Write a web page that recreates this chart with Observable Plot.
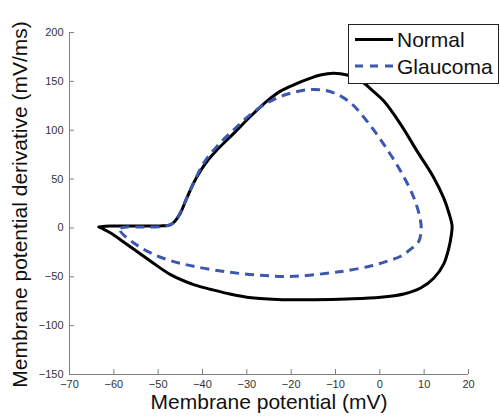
<!DOCTYPE html>
<html>
<head>
<meta charset="utf-8">
<script src="https://cdn.jsdelivr.net/npm/d3@7"></script>
<script src="https://cdn.jsdelivr.net/npm/@observablehq/plot@0.6"></script>
<style>
  html, body { margin: 0; padding: 0; background: #fff; }
  #chart { width: 500px; height: 418px; }
</style>
</head>
<body>
<div id="chart"></div>
<script>
// Tick values
const xTicks = [-70, -60, -50, -40, -30, -20, -10, 0, 10, 20];
const yTicks = [-150, -100, -50, 0, 50, 100, 150, 200];

// Labels
const xLabel = "Membrane potential (mV)";
const yLabel = "Membrane potential derivative (mV/ms)";
const seriesNames = ["Normal", "Glaucoma"];

// Normal: membrane potential (mV) and derivative (mV/ms), traced clockwise from the left tip
const normalV = [-63.4, -60.8, -57, -53.2, -49.5, -47.2, -46.1, -45, -43.5, -42, -40.5, -39, -36.7, -32.9, -29.2, -25.4, -22.4, -19.4, -16.4, -13.4, -10.4, -7.4, -4.4, -1.5, 0.9, 4.7, 8.4, 12.2, 14.4, 15.6, 16.3, 16.1, 15.6, 14.4, 12.2, 9.2, 5.4, 0.2, -7.4, -15, -22, -29, -34.4, -38, -42, -47.2, -51.7, -57, -60.8, -63.4];
const normalD = [1, 2, 2, 2, 2, 3.4, 7.5, 15, 31, 46, 58, 68, 80, 97, 114, 130, 140, 146.5, 152, 156.5, 158.2, 156.5, 151, 140, 129.8, 106, 78.6, 51.2, 30.7, 15, 2, -8, -20, -37, -51.2, -61.5, -67.6, -71, -72.7, -73.4, -73.4, -71.5, -67, -63, -58, -47.8, -34, -17, -5, 1];

// Glaucoma
const glaucV = [-58.5, -57, -53.2, -49.5, -47.2, -45.7, -44.2, -42, -39.7, -36.7, -32.9, -29.2, -25.4, -22.4, -19.4, -16.4, -13.6, -10.4, -6.6, -2.9, 0.9, 4.7, 7.7, 9.2, 9.3, 8.8, 7.3, 4.7, 1.7, -2.1, -7.4, -11.1, -19.4, -26.9, -34.4, -42, -47.2, -51.7, -55.5, -58.5, -58.5];
const glaucD = [0, 1, 1, 1.4, 3.4, 10, 24, 46, 66.6, 83.7, 100.7, 116, 128, 134.5, 138.8, 141.3, 141.5, 138.3, 128, 109.3, 85.5, 58, 30.7, 6.9, -3.4, -13.6, -20.5, -29, -34, -39, -43.7, -46, -49.5, -48.5, -45, -39.3, -33.5, -25.6, -15.4, -3.4, 0];

const normal = normalV.map((v, i) => ({v, d: normalD[i]}));
const glaucoma = glaucV.map((v, i) => ({v, d: glaucD[i]}));

const W = 500, H = 418, mL = 69, mR = 32, mT = 32, mB = 44;
const innerW = W - mL - mR, innerH = H - mT - mB;
const axisColor = "#808080";
const blue = "#3d56b0";

const plot = Plot.plot({
  width: W, height: H,
  marginLeft: mL, marginRight: mR, marginTop: mT, marginBottom: mB,
  style: {fontFamily: "'Liberation Sans', Arial, sans-serif", background: "#fff", overflow: "visible"},
  x: {domain: [-70, 20]},
  y: {domain: [-150, 200]},
  marks: [
    Plot.ruleX([xTicks[0]], {stroke: axisColor, strokeWidth: 1}),
    Plot.ruleY([yTicks[0]], {stroke: axisColor, strokeWidth: 1}),
    Plot.ruleX(xTicks, {x: d => d, insetTop: innerH - 5, stroke: axisColor}),
    Plot.ruleY(yTicks, {y: d => d, insetRight: innerW - 5, stroke: axisColor}),
    Plot.axisX({ticks: xTicks, tickSize: 0, tickPadding: 6, fontSize: 11, fill: "#333", label: null}),
    Plot.axisY({ticks: yTicks, tickSize: 0, tickPadding: 6, fontSize: 11, fill: "#333", label: null}),
    Plot.text([xLabel], {text: d => d, frameAnchor: "bottom", textAnchor: "middle", lineAnchor: "middle", dy: 28, fontSize: 21, fill: "#111"}),
    Plot.text([yLabel], {text: d => d, frameAnchor: "left", textAnchor: "middle", lineAnchor: "middle", rotate: -90, dx: -49, dy: 1, fontSize: 21, fill: "#111"}),
    Plot.line(normal, {x: "v", y: "d", stroke: "#000", strokeWidth: 3, curve: "catmull-rom"}),
    Plot.line(glaucoma, {x: "v", y: "d", stroke: blue, strokeWidth: 3, strokeDasharray: "9,6", strokeLinecap: "butt", curve: "catmull-rom"})
  ]
});

document.getElementById("chart").appendChild(plot);

// Legend inside the plot (upper right)
const svg = d3.select(plot);
const lg = svg.append("g").attr("font-family", "'Liberation Sans', Arial, sans-serif").attr("text-anchor", "start");
lg.append("rect").attr("x", 348.5).attr("y", 24.5).attr("width", 150).attr("height", 59)
  .attr("fill", "#fff").attr("stroke", "#222").attr("stroke-width", 1);
const items = [
  {name: seriesNames[0], color: "#000", dash: null, y: 39.5},
  {name: seriesNames[1], color: blue, dash: "8,7", y: 66}
];
items.forEach(it => {
  lg.append("line").attr("x1", 355).attr("x2", 393).attr("y1", it.y).attr("y2", it.y)
    .attr("stroke", it.color).attr("stroke-width", 3).attr("stroke-dasharray", it.dash);
  lg.append("text").attr("x", 397).attr("y", it.y + 7.5).attr("text-anchor", "start")
    .attr("font-size", 21).attr("fill", "#111").text(it.name);
});
</script>
</body>
</html>
